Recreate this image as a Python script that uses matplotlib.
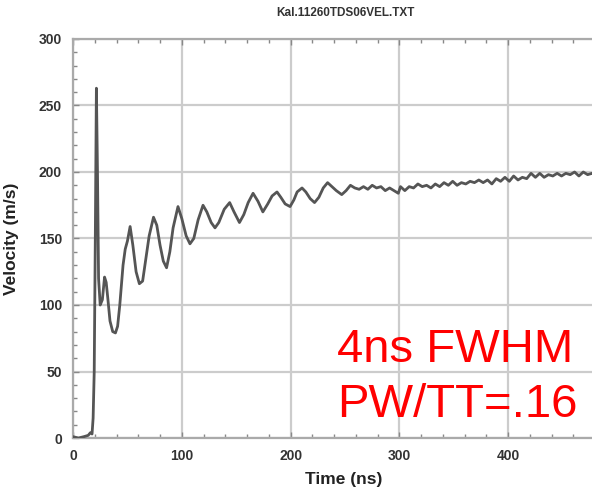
import matplotlib
matplotlib.use("Agg")
import matplotlib.pyplot as plt
from matplotlib.ticker import MultipleLocator

# Free-surface velocity record
time_ns = [0, 5, 10, 14, 16, 17.5, 18.5, 19.5, 20.5, 21.5, 22.5, 23.5, 25, 27, 29, 30.5,
           32, 34, 36.5, 39, 41, 43, 46, 48, 50, 52.5, 55, 58, 61, 64, 67, 70, 74, 77,
           80, 83, 86, 89, 92, 96.5, 100, 104, 107.5, 111, 115, 119.5, 123, 127, 130.5,
           134, 139, 144, 148, 153, 157, 161, 165.5, 170, 174.5, 179, 183, 187.5, 191,
           195, 199.5, 203, 206, 210.5, 214, 218, 222, 226, 230, 234, 238, 242, 247,
           251, 255, 259, 263, 267, 271, 275, 279, 283, 287, 291, 295, 299, 301, 305,
           309, 313, 317, 321, 325, 329, 333, 337, 341, 345, 349, 353, 357, 361, 365,
           369, 373, 377, 381, 385, 389, 393, 397, 401, 405, 409, 413, 417, 421, 425,
           429, 433, 437, 441, 445, 449, 453, 457, 461, 465, 469, 473, 477, 481]
velocity_ms = [1, 0, 1, 2, 4, 3, 15, 50, 150, 263, 200, 120, 100, 104, 121, 117,
               105, 88, 80, 79, 84, 100, 130, 142, 148, 159, 145, 125, 116, 118, 135, 152, 166, 160,
               145, 133, 128, 140, 158, 174, 165, 152, 146, 150, 164, 175, 170, 162, 158,
               162, 172, 177, 170, 162, 168, 177, 184, 178, 170, 176, 182, 185, 181,
               176, 174, 179, 185, 188, 185, 180, 177, 181, 188, 192, 189, 186, 183,
               186, 190, 188, 187, 189, 187, 190, 188, 189, 186, 188, 186, 184, 189, 186,
               189, 188, 191, 189, 190, 188, 191, 189, 192, 190, 193, 190, 192, 191, 193,
               192, 194, 192, 194, 191, 195, 193, 196, 193, 197, 194, 196, 195, 199, 196,
               199, 196, 198, 197, 199, 197, 199, 198, 200, 197, 200, 198, 199, 197]

x_ticks = [0, 100, 200, 300, 400]
y_ticks = [0, 50, 100, 150, 200, 250, 300]
title_text = "Kal.11260TDS06VEL.TXT"
note_lines = ["4ns FWHM", "PW/TT=.16"]

W, H = 592, 491
fig = plt.figure(figsize=(W / 100, H / 100), dpi=100)
ax = fig.add_axes([73 / W, 53 / H, 544 / W, 399 / H])

ax.plot(time_ns, velocity_ms, color="#555555", lw=2.0, solid_joinstyle="round", zorder=3)

ax.set_xlim(0, 500)
ax.set_ylim(0, 300)
ax.set_xticks(x_ticks)
ax.set_yticks(y_ticks)
ax.xaxis.set_minor_locator(MultipleLocator(20))
ax.yaxis.set_minor_locator(MultipleLocator(10))
ax.grid(True, which="major", color="#cccccc", lw=1.6, zorder=0)
ax.axvline(500, color="#cccccc", lw=1.6, zorder=0)
ax.tick_params(which="both", direction="in", top=True, right=False, color="#888888",
               labelsize=10, labelcolor="#333333", width=1)
ax.tick_params(which="major", length=4, pad=8)
ax.tick_params(which="minor", length=3)
for lab in ax.get_xticklabels() + ax.get_yticklabels():
    lab.set_fontweight("bold")
    lab.set_family("Liberation Sans")
for side in ("left", "bottom", "top"):
    ax.spines[side].set_color("#aaaaaa")
    ax.spines[side].set_linewidth(1.6)
ax.spines["right"].set_visible(False)

ax.set_xlabel("Time (ns)", fontsize=12.5, fontweight="bold", family="Liberation Sans",
              color="#222222")
ax.set_ylabel("Velocity (m/s)", fontsize=12.5, fontweight="bold", family="Liberation Sans",
              color="#222222")
ax.xaxis.set_label_coords((344 - 73) / 544, -0.085)
ax.yaxis.set_label_coords(-(73 - 19) / 544, 0.5)

fig.text(345 / W, 1 - 13 / H, title_text, ha="center", va="center", fontsize=8.5,
         fontweight="bold", family="Liberation Sans", color="#333333")

for line, base_y in zip(note_lines, (362, 417)):
    fig.text(337 / W, 1 - base_y / H, line, ha="left", va="baseline", fontsize=34,
             family="Liberation Sans", color="#ff0000")

fig.savefig("out.png", dpi=100)
